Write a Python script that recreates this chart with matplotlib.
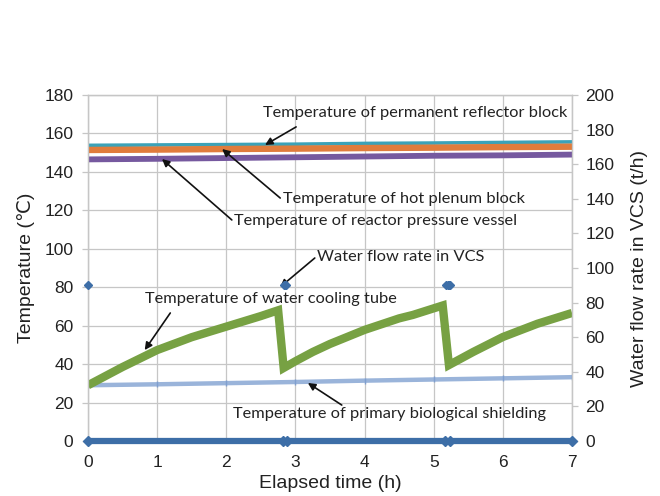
import matplotlib
matplotlib.use("Agg")
import matplotlib.pyplot as plt

# ---------------- data ----------------
# Temperatures (left axis, deg C)
reflector_t = [0.0, 1.0, 2.0, 3.0, 4.0, 5.0, 6.0, 7.0]
reflector_v = [153.8, 154.0, 154.2, 154.4, 154.8, 155.0, 155.3, 155.6]

plenum_t = [0.0, 1.0, 2.0, 3.0, 4.0, 5.0, 6.0, 7.0]
plenum_v = [151.4, 151.6, 151.9, 152.1, 152.4, 152.6, 152.9, 153.1]

rpv_t = [0.0, 1.0, 2.0, 3.0, 4.0, 5.0, 6.0, 7.0]
rpv_v = [146.5, 146.8, 147.2, 147.6, 148.0, 148.4, 148.6, 149.0]

cooling_t = [0.0, 0.5, 1.0, 1.5, 2.0, 2.5, 2.75, 2.83, 3.0, 3.25, 3.5, 4.0,
             4.5, 4.7, 5.13, 5.22, 5.57, 6.0, 6.5, 7.0]
cooling_v = [29.0, 38.5, 47.3, 54.0, 59.5, 65.0, 68.0, 38.0, 41.5, 46.3, 50.5, 57.8,
             63.8, 65.6, 70.5, 39.5, 46.3, 54.1, 61.0, 66.6]

shield_t = [0.0, 1.0, 2.0, 3.0, 4.0, 5.0, 6.0, 7.0]
shield_v = [29.0, 29.5, 30.1, 30.7, 31.4, 32.0, 32.6, 33.2]

# Water flow rate in VCS (right axis, t/h)
flow_off_t = [[0.0, 2.82], [2.88, 5.17], [5.24, 7.0]]
flow_off_v = [[0.0, 0.0], [0.0, 0.0], [0.0, 0.0]]
flow_on_t = [0.0, 2.83, 2.85, 2.87, 5.18, 5.20, 5.22, 5.24]
flow_on_v = [90.0, 90.0, 90.0, 90.0, 90.0, 90.0, 90.0, 90.0]

x_ticks = [0, 1, 2, 3, 4, 5, 6, 7]
left_ticks = [0, 20, 40, 60, 80, 100, 120, 140, 160, 180]
right_ticks = [0, 20, 40, 60, 80, 100, 120, 140, 160, 180, 200]

labels = {
    "reflector": "Temperature of permanent reflector block",
    "plenum": "Temperature of hot plenum block",
    "rpv": "Temperature of reactor pressure vessel",
    "flow": "Water flow rate in VCS",
    "cooling": "Temperature of water cooling tube",
    "shield": "Temperature of primary biological shielding",
}

# ---------------- figure ----------------
plt.rcParams['font.family'] = ['Liberation Sans', 'DejaVu Sans']
fig = plt.figure(figsize=(6.6, 4.96), dpi=100)
ax = fig.add_axes([88 / 660, 1 - 441 / 496, (572 - 88) / 660, (441 - 95) / 496])
ax2 = ax.twinx()

grid_c = '#c6c6c6'
ax.set_xlim(0, 7)
ax.set_ylim(0, 180)
ax2.set_ylim(0, 200)
ax.set_xticks(x_ticks)
ax.set_yticks(left_ticks)
ax2.set_yticks(right_ticks)
ax.grid(True, color=grid_c, lw=0.9)
ax.set_axisbelow(True)
for a in (ax, ax2):
    for s in a.spines.values():
        s.set_color(grid_c)
        s.set_linewidth(0.9)
ax.tick_params(axis='x', length=0, pad=10, labelsize=12.5, colors='#222222')
ax.tick_params(axis='y', length=4, width=0.9, color=grid_c, pad=6.5,
               labelsize=12.5, labelcolor='#222222')
ax2.tick_params(axis='y', length=4, width=0.9, color=grid_c, pad=5.5,
                labelsize=12.5, labelcolor='#222222')

ax.set_xlabel("Elapsed time (h)", fontsize=14, labelpad=4, color='#222222')
ax.set_ylabel("Temperature (℃)", fontsize=14, labelpad=7, color='#222222')
ax2.set_ylabel("Water flow rate in VCS (t/h)", fontsize=14, labelpad=12, color='#222222')

# series
ax.plot(shield_t, shield_v, color='#9ab4da', lw=3.2, zorder=3)
ax.plot(shield_t, shield_v, color='#7f9fcf', lw=0, marker='|', ms=4, zorder=3)
ax.plot(cooling_t, cooling_v, color='#77a143', lw=6, solid_joinstyle='miter',
        solid_capstyle='butt', zorder=4)
ax.plot(reflector_t, reflector_v, color='#3ba2b8', lw=2.6, zorder=3)
ax.plot(rpv_t, rpv_v, color='#76599f', lw=4.2, zorder=3)
ax.plot(plenum_t, plenum_v, color='#e07c3c', lw=4.6, zorder=4)

flow_c = '#3d6ea7'
for ft, fv in zip(flow_off_t, flow_off_v):
    ax2.plot(ft, fv, color=flow_c, lw=4.5, solid_capstyle='butt', clip_on=False, zorder=5)
    ax2.plot(ft, fv, color=flow_c, lw=0, marker='D', ms=5, clip_on=False, zorder=5)
ax2.plot(flow_on_t, flow_on_v, color=flow_c, lw=0, marker='D', ms=4.5, clip_on=False, zorder=5)

# annotations (text + arrows)
tfam = ['Lato', 'DejaVu Sans']
tsize = 11.8
arrow = dict(arrowstyle='-|>', color='#111111', lw=1.2, mutation_scale=11,
             shrinkA=0, shrinkB=0)

def note(key, text_xy, tail, head):
    ax.text(text_xy[0], text_xy[1], labels[key], fontsize=tsize, family=tfam,
            color='#222222', ha='left', va='center', zorder=6)
    ax.annotate('', xy=head, xytext=tail, arrowprops=arrow, zorder=6)

note("reflector", (2.53, 170.7), (3.01, 163.4), (2.56, 154.0))
note("plenum", (2.82, 125.9), (2.78, 126.4), (1.94, 151.9))
note("rpv", (2.11, 114.5), (2.08, 115.0), (1.07, 146.7))
note("cooling", (0.82, 73.9), (1.19, 66.6), (0.82, 47.3))
note("shield", (2.10, 14.0), (3.67, 18.7), (3.18, 30.2))
note("flow", (3.31, 95.7), (3.28, 95.2), (2.78, 80.1))

fig.savefig("out.png", dpi=100)
